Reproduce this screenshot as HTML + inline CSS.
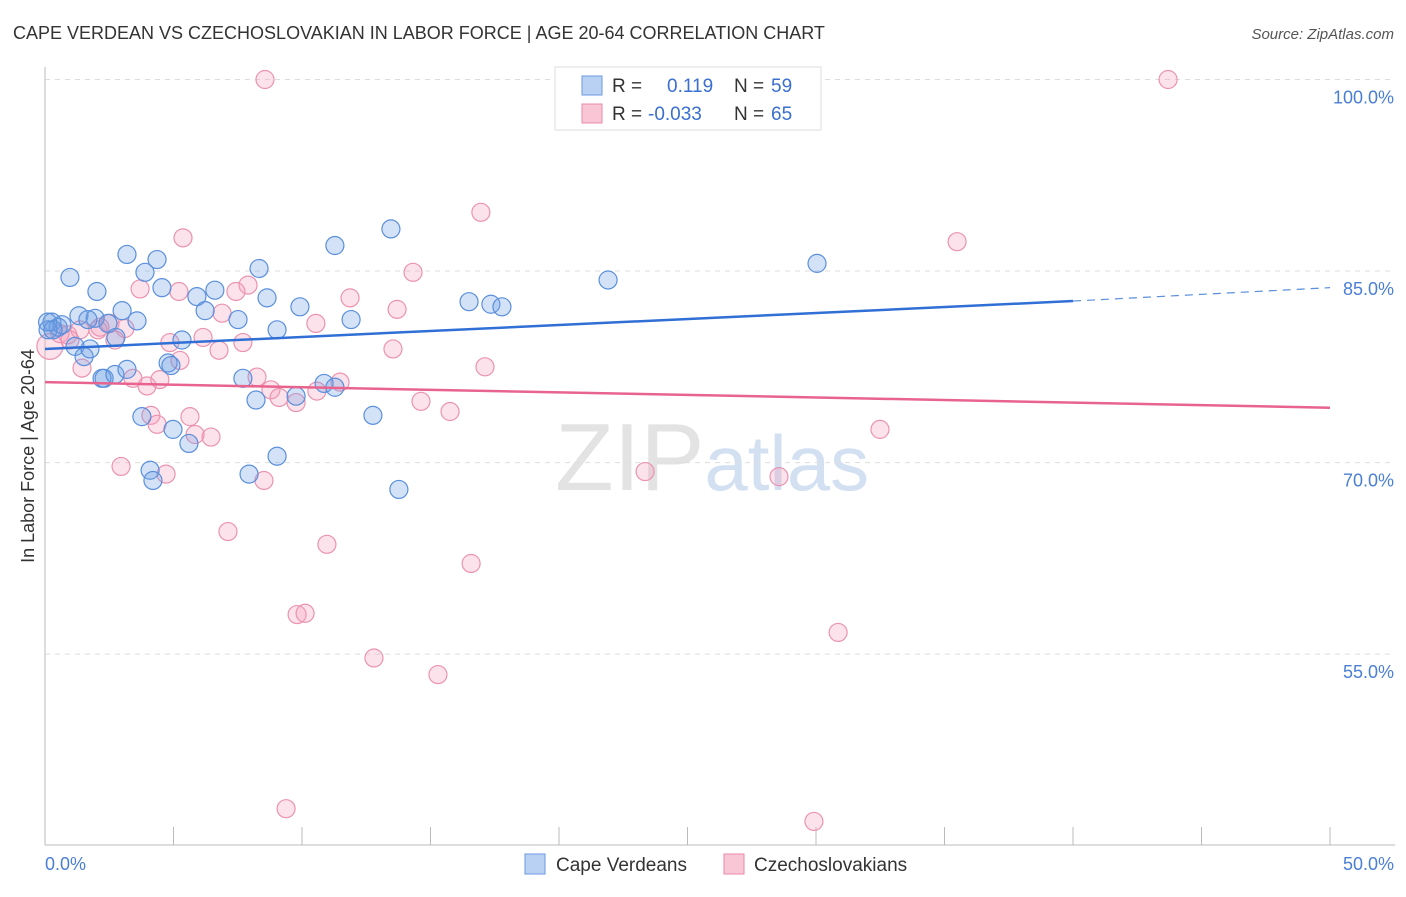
<!DOCTYPE html>
<html><head><meta charset="utf-8"><style>
body{margin:0;background:#fff;font-family:"Liberation Sans",sans-serif;}
svg text{font-family:"Liberation Sans",sans-serif;}
</style></head><body>
<svg id="chart" width="1406" height="892" xmlns="http://www.w3.org/2000/svg">
<text x="13" y="39" font-size="18" fill="#333">CAPE VERDEAN VS CZECHOSLOVAKIAN IN LABOR FORCE | AGE 20-64 CORRELATION CHART</text>
<text x="1394" y="39" font-size="15" fill="#555" text-anchor="end" font-style="italic">Source: ZipAtlas.com</text>
<text x="555" y="490" font-size="96" fill="#ddd" font-family="Liberation Serif" opacity="0.8">ZIP<tspan fill="#c8d9f0" font-family="Liberation Sans" font-size="78">atlas</tspan></text>
<g id="grid"></g>
<g id="axes"></g>
<g id="marks"></g>
<text transform="translate(34,456) rotate(-90)" font-size="18" fill="#333" text-anchor="middle">In Labor Force | Age 20-64</text>
<text x="45" y="870" font-size="18" fill="#4a7fd4">0.0%</text>
<text x="1394" y="870" font-size="18" fill="#4a7fd4" text-anchor="end">50.0%</text>
<g>
<rect x="555" y="67" width="266" height="63" fill="#fff" stroke="#ddd"/>
<rect x="582" y="76" width="20" height="19" fill="#b9d2f3" stroke="#6b9ae0"/>
<rect x="582" y="104" width="20" height="19" fill="#f9c6d6" stroke="#e88aa8"/>
<text x="612" y="92" font-size="19" fill="#333">R = </text><text x="667" y="92" font-size="19" fill="#3a6fd0">0.119</text>
<text x="734" y="92" font-size="19" fill="#333">N = </text><text x="771" y="92" font-size="19" fill="#3a6fd0">59</text>
<text x="612" y="120" font-size="19" fill="#333">R = </text><text x="648" y="120" font-size="19" fill="#3a6fd0">-0.033</text>
<text x="734" y="120" font-size="19" fill="#333">N = </text><text x="771" y="120" font-size="19" fill="#3a6fd0">65</text>
</g>
<g>
<rect x="525" y="854" width="20" height="20" fill="#b9d2f3" stroke="#6b9ae0"/>
<text x="556" y="871" font-size="19" fill="#333">Cape Verdeans</text>
<rect x="724" y="854" width="20" height="20" fill="#f9c6d6" stroke="#e88aa8"/>
<text x="754" y="871" font-size="19" fill="#333">Czechoslovakians</text>
</g>
</svg>
<script>
const yTicks=[100,85,70,55];
const yTickLabels=["100.0%","85.0%","70.0%","55.0%"];
const xTicks=[0,5,10,15,20,25,30,35,40,45,50];
const blueX=[0.27,0.51,0.66,0.97,1.17,1.32,1.52,1.75,1.95,2.02,2.22,2.30,2.45,2.72,2.76,3.00,3.19,3.19,3.58,3.77,3.89,4.09,4.20,4.36,4.55,4.79,4.90,4.98,5.33,5.60,5.91,6.23,6.61,7.51,7.70,8.21,8.33,7.94,8.64,9.03,9.03,9.77,9.92,10.86,11.28,11.28,11.91,12.76,13.46,13.77,16.50,17.35,17.78,21.91,30.04,0.1,0.12,0.31,1.67];
const blueY=[81.0,80.6,80.8,84.5,79.1,81.5,78.3,78.9,81.3,83.4,76.6,76.6,80.9,76.9,79.8,81.9,86.3,77.3,81.1,73.6,84.9,69.4,68.6,85.9,83.7,77.8,77.6,72.6,79.6,71.5,83.0,81.9,83.5,81.2,76.6,74.9,85.2,69.1,82.9,80.4,70.5,75.2,82.2,76.2,75.9,87.0,81.2,73.7,88.3,67.9,82.6,82.4,82.2,84.3,85.6,81.0,80.4,80.4,81.2];
const pinkX=[8.56,43.70,16.96,5.37,35.49,14.32,3.70,5.21,7.90,7.43,11.87,13.70,6.89,10.54,2.53,3.11,2.06,0.89,6.15,7.70,4.86,6.77,13.54,17.12,1.44,3.42,3.97,8.25,11.48,10.58,8.79,9.11,9.77,14.63,15.76,4.12,5.64,4.36,5.84,6.46,32.49,2.96,4.71,23.35,28.56,8.52,7.12,10.97,16.58,9.81,10.12,30.86,12.80,15.29,9.38,29.92,0.19,0.58,1.36,2.14,0.97,2.72,4.47,5.25];
const pinkY=[100.0,100.0,89.6,87.6,87.3,84.9,83.6,83.4,83.9,83.4,82.9,82.0,81.7,80.9,80.9,80.5,80.4,80.0,79.8,79.4,79.4,78.8,78.9,77.5,77.4,76.6,76.0,76.7,76.3,75.6,75.7,75.1,74.7,74.8,74.0,73.7,73.6,73.0,72.2,72.0,72.6,69.7,69.1,69.3,68.9,68.6,64.6,63.6,62.1,58.1,58.2,56.7,54.7,53.4,42.9,41.9,79.1,80.1,80.4,80.6,79.6,79.6,76.5,78.0];
const blueTrend=[78.9,82.65,83.7];
const pinkTrend=[76.3,74.3];
const X0=45,X1=1330,YTOP=79.5,PXPER=12.77;
function sx(v){return X0+(X1-X0)*v/50;}
function sy(v){return YTOP+(100-v)*PXPER;}
const NS="http://www.w3.org/2000/svg";
function mk(tag,attrs,parent){const e=document.createElementNS(NS,tag);for(const k in attrs)e.setAttribute(k,attrs[k]);parent.appendChild(e);return e;}
const grid=document.getElementById('grid'),axes=document.getElementById('axes'),marks=document.getElementById('marks');
yTicks.forEach((t,i)=>{
 const l=mk('line',{x1:X0,x2:1395,y1:sy(t),y2:sy(t),stroke:'#ddd','stroke-dasharray':'5,5'},grid);
 
 
 const tx=mk('text',{x:1394,y:sy(t)+24,'font-size':18,fill:'#4a7fd4','text-anchor':'end'},grid);
 tx.textContent=yTickLabels[i];
 
 
});
const yl=mk('line',{x1:X0,x2:X0,y1:67,y2:845,stroke:'#bbb'},axes);


const xl=mk('line',{x1:X0,x2:1395,y1:845,y2:845,stroke:'#bbb'},axes);


xTicks.forEach(t=>{
 const l=mk('line',{x1:sx(t),x2:sx(t),y1:827,y2:845,stroke:'#bbb'},axes);
 
 
});
function dots(xs,ys,fill,stroke,name){
 xs.forEach((x,i)=>{
  const c=mk('circle',{cx:sx(x),cy:sy(ys[i]),r:(name==='pink-point'&&i===xs.length-8)?13:9,fill:fill,stroke:stroke,'stroke-width':1.2},marks);
  
  
 });
}
dots(pinkX,pinkY,'rgba(244,160,190,0.3)','#eb93b0','pink-point');
dots(blueX,blueY,'rgba(110,160,230,0.3)','#5a8fdc','blue-point');
const bt=mk('line',{x1:sx(0),y1:sy(blueTrend[0]),x2:sx(40),y2:sy(blueTrend[1]),stroke:'#2f6fd6','stroke-width':2.5},marks);


const bd=mk('line',{x1:sx(40),y1:sy(blueTrend[1]),x2:sx(50),y2:sy(blueTrend[2]),stroke:'#5a8fdc','stroke-width':1.2,'stroke-dasharray':'8,6'},marks);


const pt=mk('line',{x1:sx(0),y1:sy(pinkTrend[0]),x2:sx(50),y2:sy(pinkTrend[1]),stroke:'#e8648e','stroke-width':2.5},marks);


</script>
</body></html>
